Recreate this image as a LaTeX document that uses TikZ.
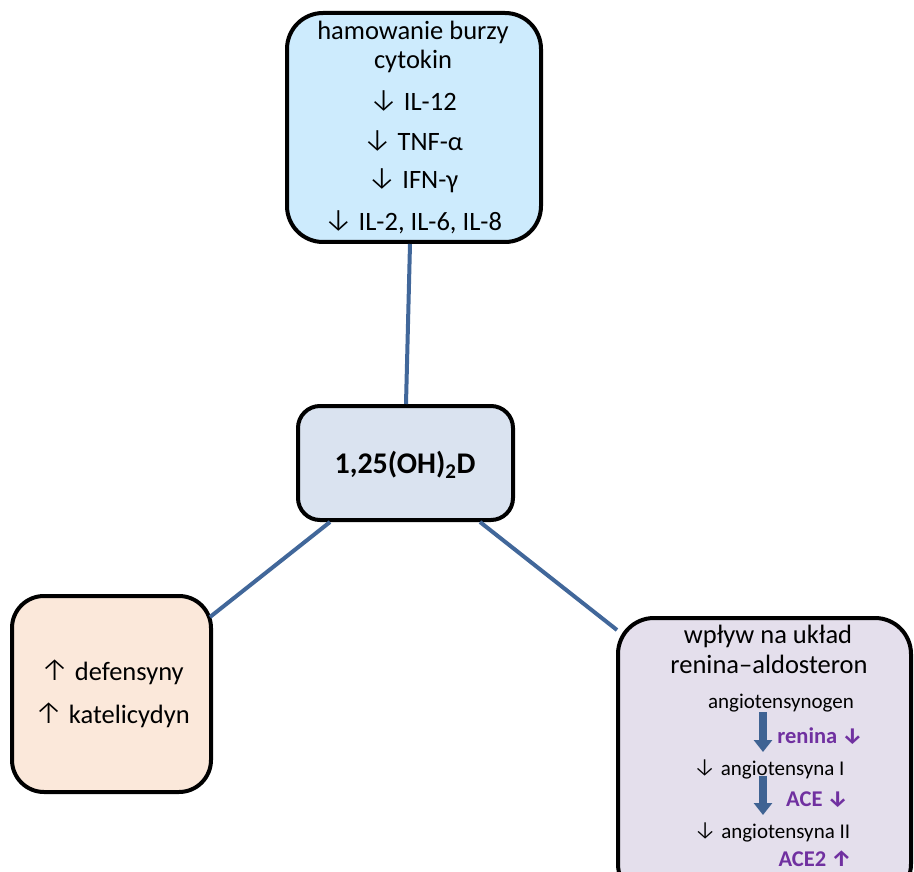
\documentclass[tikz,border=0pt]{standalone}
\usepackage{fontspec}
\setmainfont{Carlito}
\newfontfamily\arr{Fira Sans Light}
\usetikzlibrary{arrows.meta}
\definecolor{linkblue}{HTML}{41679A}
\definecolor{arrowblue}{HTML}{3F6393}
\definecolor{enzpurple}{HTML}{7030A0}
\definecolor{topfill}{HTML}{CDEBFD}
\definecolor{midfill}{HTML}{DAE3F0}
\definecolor{leftfill}{HTML}{FBE8DA}
\definecolor{rightfill}{HTML}{E4DFEC}
\newcommand{\dnarr}{\scalebox{1.2}{\arr ↓}}
\newcommand{\uparr}{\scalebox{1.2}{\arr ↑}}
\newcommand{\pdnarr}{{\arr ↓}}
\newcommand{\puparr}{{\arr ↑}}
\tikzset{
  box/.style={draw=black, line width=4pt},
  link/.style={draw=linkblue, line width=4pt},
  blockarrow/.style={draw=arrowblue, line width=8pt, -{Triangle[width=18pt,length=12pt]}},
  txt/.style={inner sep=0pt, anchor=center, font=\fontsize{26.5pt}{26.5pt}\selectfont},
  stxt/.style={inner sep=0pt, anchor=center, font=\fontsize{21pt}{21pt}\selectfont},
  etxt/.style={inner sep=0pt, anchor=center, text=enzpurple, font=\fontsize{22.5pt}{22.5pt}\selectfont\bfseries},
}
\begin{document}
\begin{tikzpicture}[x=1pt,y=-1pt]
\useasboundingbox (0,0) rectangle (914,872);
\clip (0,0) rectangle (914,872);
% boxes
\draw[box, fill=topfill, rounded corners=36pt] (287,13) rectangle (541,242);
\draw[box, fill=midfill, rounded corners=22pt] (298,406) rectangle (513,520);
\draw[box, fill=leftfill, rounded corners=32pt] (12,596) rectangle (211,792);
\draw[box, fill=rightfill, rounded corners=36pt] (618,618) rectangle (911,900);
% anchor coordinates
\coordinate (topB) at (410,244);
\coordinate (midT) at (406,404);
\coordinate (midBL) at (330,522);
\coordinate (leftTR) at (210,617);
\coordinate (midBR) at (480,522);
\coordinate (rightTL) at (617,630);
\draw[link] (topB) -- (midT);
\draw[link] (midBL) -- (leftTR);
\draw[link] (midBR) -- (rightTL);
% top text
\node[txt] (t1) at (413,32) {hamowanie burzy};
\node[txt] (t2) at (413,61) {cytokin};
\node[txt] (t3) at (413,101) {\dnarr\ IL-12};
\node[txt] (t4) at (413,141) {\dnarr\ TNF-α};
\node[txt] (t5) at (413,181) {\dnarr\ IFN-γ};
\node[txt] (t6) at (413,222) {\dnarr\ IL-2, IL-6, IL-8};
% center
\node[inner sep=0pt, font=\fontsize{30pt}{30pt}\selectfont\bfseries] (c) at (405,465) {1,25(OH)\textsubscript{2}D};
% left
\node[txt] (l1) at (112,672) {\uparr\ defensyny};
\node[txt] (l2) at (112,715) {\uparr\ katelicydyn};
% right
\node[txt] (r1) at (768,636) {wpływ na układ};
\node[txt] (r2) at (769,664) {renina–aldosteron};
\node[stxt] (r3) at (781,703) {angiotensynogen};
\node[stxt] (r4) at (769,769) {\dnarr\ angiotensyna I};
\node[stxt] (r5) at (772,832) {\dnarr\ angiotensyna II};
\node[etxt] (e1) at (820,736) {renina \pdnarr};
\node[etxt] (e2) at (817,800) {ACE \pdnarr};
\node[etxt] (e3) at (815,859) {ACE2 \puparr};
\coordinate (a1s) at (763,712);
\coordinate (a1e) at (763,752);
\coordinate (a2s) at (763,776);
\coordinate (a2e) at (763,815);
\draw[blockarrow] (a1s) -- (a1e);
\draw[blockarrow] (a2s) -- (a2e);
\end{tikzpicture}
\end{document}
